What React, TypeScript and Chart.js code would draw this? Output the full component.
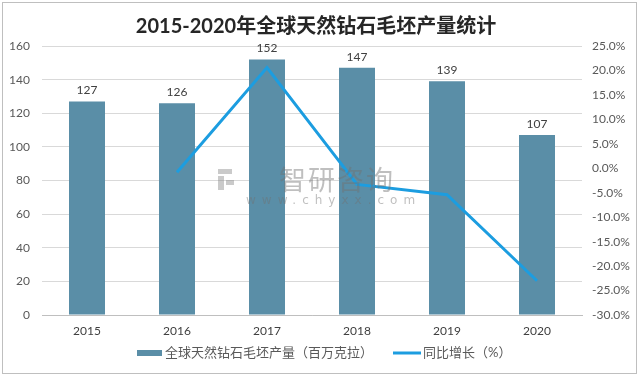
import React, { useEffect, useRef } from "react";
import { Chart, registerables } from "chart.js";

Chart.register(...registerables);

const categories = ["2015", "2016", "2017", "2018", "2019", "2020"];
const production = [127, 126, 152, 147, 139, 107];
const growth = [null, -0.8, 20.6, -3.3, -5.4, -23.0];
const title = "2015-2020年全球天然钻石毛坯产量统计";
const barLabel = "全球天然钻石毛坯产量（百万克拉）";
const lineLabel = "同比增长（%）";

const BAR_COLOR = "#5a8ea7";
const LINE_COLOR = "#1c9de0";
const FONT = "Lato, 'Noto Sans CJK SC', sans-serif";

const decor = {
  id: "decor",
  afterDatasetsDraw(chart: any) {
    const ctx = chart.ctx;
    ctx.save();
    // data labels
    const meta = chart.getDatasetMeta(0);
    ctx.font = "12px " + FONT;
    ctx.fillStyle = "#404040";
    ctx.textAlign = "center";
    ctx.textBaseline = "bottom";
    meta.data.forEach((el: any, i: number) => {
      ctx.fillText(String(production[i]), el.x, el.y - 5);
    });
    ctx.restore();
  },
  afterDraw(chart: any) {
    const ctx = chart.ctx;
    ctx.save();
    // frame
    ctx.strokeStyle = "#bfbfbf";
    ctx.lineWidth = 1;
    ctx.strokeRect(2.5, 2.5, 634, 371);
    // title
    ctx.font = "bold 20px " + FONT;
    ctx.fillStyle = "#262626";
    ctx.textAlign = "center";
    ctx.textBaseline = "middle";
    ctx.fillText(title, 316, 27);
    // legend
    ctx.fillStyle = BAR_COLOR;
    ctx.fillRect(137, 350, 25, 6);
    ctx.strokeStyle = LINE_COLOR;
    ctx.lineWidth = 3;
    ctx.beginPath();
    ctx.moveTo(393, 353);
    ctx.lineTo(421, 353);
    ctx.stroke();
    ctx.font = "13px " + FONT;
    ctx.fillStyle = "#595959";
    ctx.textAlign = "left";
    ctx.textBaseline = "middle";
    ctx.fillText(barLabel, 165, 353);
    ctx.fillText(lineLabel, 423, 353);
    // watermark
    ctx.globalAlpha = 0.45;
    ctx.fillStyle = "#8a8a8a";
    ctx.fillRect(218, 169, 14, 5);
    ctx.fillRect(218, 176, 6, 14);
    ctx.fillRect(226, 180, 8, 5);
    ctx.font = "27px 'Noto Sans CJK SC', sans-serif";
    ctx.fillStyle = "#707070";
    ctx.textBaseline = "middle";
    (ctx as any).letterSpacing = "2px";
    ctx.fillText("智研咨询", 279, 180);
    ctx.font = "12px 'DejaVu Sans', sans-serif";
    (ctx as any).letterSpacing = "6px";
    ctx.fillText("www.chyxx.com", 246, 201);
    ctx.restore();
  },
};

export default function App() {
  const ref = useRef<HTMLCanvasElement>(null);
  useEffect(() => {
    if (!ref.current) return;
    const chart = new Chart(ref.current, {
      type: "bar",
      data: {
        labels: categories,
        datasets: [
          {
            type: "bar",
            label: barLabel,
            data: production,
            backgroundColor: BAR_COLOR,
            barPercentage: 0.4,
            categoryPercentage: 1,
            yAxisID: "y",
            order: 2,
          } as any,
          {
            type: "line",
            label: lineLabel,
            data: growth,
            borderColor: LINE_COLOR,
            backgroundColor: LINE_COLOR,
            borderWidth: 3,
            pointRadius: 0,
            tension: 0,
            yAxisID: "y1",
            order: 1,
          } as any,
        ],
      },
      options: {
        animation: false,
        responsive: false,
        devicePixelRatio: 1,
        layout: { padding: { top: 46, bottom: 32, left: 3, right: 0 } },
        plugins: {
          legend: { display: false },
          title: { display: false },
          tooltip: { enabled: false },
        },
        scales: {
          x: {
            grid: { display: false, drawTicks: false },
            border: { display: true, color: "#bfbfbf" },
            ticks: { color: "#404040", font: { size: 12, family: FONT }, padding: 9 },
            afterFit(s: any) { s.height = 30; },
          },
          y: {
            position: "left",
            min: 0,
            max: 160,
            ticks: { stepSize: 20, color: "#595959", font: { size: 12, family: FONT }, padding: 12 },
            grid: { color: "#d9d9d9", drawTicks: false },
            border: { display: false },
            afterFit(s: any) { s.width = 39; },
          },
          y1: {
            position: "right",
            min: -30,
            max: 25,
            ticks: {
              stepSize: 5,
              color: "#595959",
              font: { size: 12, family: FONT },
              padding: 10,
              callback: (v: any) => Number(v).toFixed(1) + "%",
            },
            grid: { display: false, drawTicks: false },
            border: { display: false },
            afterFit(s: any) { s.width = 58; },
          },
        },
      } as any,
      plugins: [decor],
    });
    return () => chart.destroy();
  }, []);
  return (
    <div style={{ position: "fixed", left: 0, top: 0, width: 640, height: 377, background: "#fff" }}>
      <canvas ref={ref} width={640} height={377} style={{ width: 640, height: 377 }} />
    </div>
  );
}
